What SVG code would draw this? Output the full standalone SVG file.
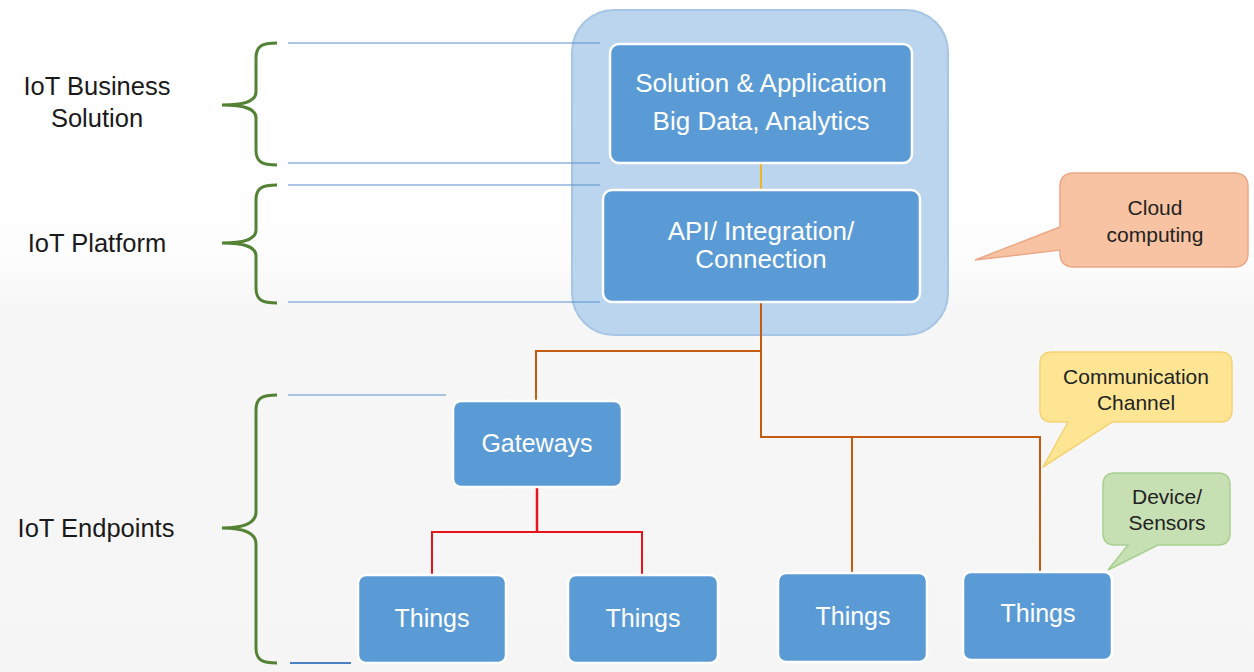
<svg xmlns="http://www.w3.org/2000/svg" width="1254" height="672" viewBox="0 0 1254 672">
<defs>
<linearGradient id="bg" x1="0" y1="0" x2="0" y2="1">
<stop offset="0" stop-color="#ffffff"/>
<stop offset="0.38" stop-color="#fdfdfd"/>
<stop offset="0.45" stop-color="#f7f7f7"/>
<stop offset="1" stop-color="#f5f5f5"/>
</linearGradient>
<style>
.box{fill:#5b9bd5;stroke:#ffffff;stroke-width:2.5}
.wt{font-family:"Liberation Sans",Arial,sans-serif;font-size:26px;fill:#ffffff;text-anchor:middle}
.wt2{font-family:"Liberation Sans",Arial,sans-serif;font-size:25px;fill:#ffffff;text-anchor:middle}
.lbl{font-family:"Liberation Sans",Arial,sans-serif;font-size:25.5px;fill:#1a1a1a;text-anchor:middle}
.ct{font-family:"Liberation Sans",Arial,sans-serif;font-size:21px;fill:#222222;text-anchor:middle}
.br{fill:none;stroke:#548235;stroke-width:3}
.bl{fill:none;stroke:#5b8fcf;stroke-width:1.2}
.or{fill:none;stroke:#c55a11;stroke-width:2}
.rd{fill:none;stroke:#e8141c;stroke-width:2}
</style>
</defs>
<rect width="1254" height="672" fill="url(#bg)"/>

<g id="cloud-container">
<rect x="572" y="10" width="376" height="325" rx="42" fill="#bad5ed" stroke="#a7c5e4" stroke-width="2"/>
</g>

<g id="brackets">
<path class="br" d="M277,43 C262,43 256,46 256,58 L256,92 C256,100 248,105 222,105 C248,105 256,110 256,118 L256,150 C256,162 262,165 277,165"/>
<path class="br" d="M277,185 C262,185 256,188 256,200 L256,230 C256,238 248,243 222,243 C248,243 256,248 256,256 L256,288 C256,300 262,303 277,303"/>
<path class="br" d="M277,395 C262,395 256,398 256,410 L256,512 C256,521 248,528 222,528 C248,528 256,535 256,544 L256,648 C256,660 262,663 277,663"/>
</g>

<g id="guides">
<line class="bl" x1="288" y1="43" x2="600" y2="43"/>
<line class="bl" x1="288" y1="163" x2="600" y2="163"/>
<line class="bl" x1="288" y1="185" x2="600" y2="185"/>
<line class="bl" x1="288" y1="302" x2="600" y2="302"/>
<line class="bl" x1="288" y1="395" x2="446" y2="395"/>
<line x1="290" y1="663" x2="351" y2="663" stroke="#4a7fc4" stroke-width="2"/>
</g>

<g id="layer-labels">
<text class="lbl" x="97" y="95">IoT Business</text>
<text class="lbl" x="97" y="127">Solution</text>
<text class="lbl" x="97" y="252">IoT Platform</text>
<text class="lbl" x="96" y="537">IoT Endpoints</text>
</g>

<g id="connectors">
<line x1="761" y1="164" x2="761" y2="189" stroke="#f0b323" stroke-width="2"/>
<polyline class="or" points="536,400 536,351 761,351"/>
<polyline class="or" points="761,303 761,437 1040,437 1040,572"/>
<line class="or" x1="852" y1="437" x2="852" y2="573"/>
<line x1="537" y1="488" x2="537" y2="532" stroke="#e8141c" stroke-width="2.5"/>
<polyline class="rd" points="432,575 432,532 642,532 642,575"/>
</g>

<g id="solution">
<rect class="box" x="610" y="44" width="302" height="119" rx="9"/>
<text class="wt" x="761" y="92">Solution &amp; Application</text>
<text class="wt" x="761" y="130">Big Data, Analytics</text>
</g>

<g id="api">
<rect class="box" x="603" y="190" width="317" height="112" rx="9"/>
<text class="wt" x="761" y="240">API/ Integration/</text>
<text class="wt" x="761" y="268">Connection</text>
</g>

<g id="gateways">
<rect class="box" x="453" y="401" width="169" height="86" rx="8"/>
<text class="wt2" x="537" y="452">Gateways</text>
</g>

<g id="things1">
<rect class="box" x="358" y="575" width="148" height="88" rx="8"/>
<text class="wt2" x="432" y="627">Things</text>
</g>
<g id="things2">
<rect class="box" x="568" y="575" width="150" height="88" rx="8"/>
<text class="wt2" x="643" y="627">Things</text>
</g>
<g id="things3">
<rect class="box" x="778" y="573" width="149" height="89" rx="8"/>
<text class="wt2" x="853" y="625">Things</text>
</g>
<g id="things4">
<rect class="box" x="963" y="572" width="149" height="88" rx="8"/>
<text class="wt2" x="1038" y="622">Things</text>
</g>

<g id="callout-cloud">
<path d="M1074,173 L1234,173 Q1248,173 1248,187 L1248,253 Q1248,267 1234,267 L1074,267 Q1060,267 1060,253 L1060,250 L975,260 L1060,227 L1060,187 Q1060,173 1074,173 Z" fill="#f8c3a3" stroke="#eaa886" stroke-width="1.5"/>
<text class="ct" x="1155" y="215">Cloud</text>
<text class="ct" x="1155" y="242">computing</text>
</g>

<g id="callout-channel">
<path d="M1052,352 L1220,352 Q1232,352 1232,364 L1232,410 Q1232,422 1220,422 L1112,422 L1043,467 L1068,422 L1052,422 Q1040,422 1040,410 L1040,364 Q1040,352 1052,352 Z" fill="#fde594" stroke="#f3d374" stroke-width="1.5"/>
<text class="ct" x="1136" y="384">Communication</text>
<text class="ct" x="1136" y="410">Channel</text>
</g>

<g id="callout-device">
<path d="M1115,473 L1218,473 Q1230,473 1230,485 L1230,533 Q1230,545 1218,545 L1158,545 L1108,570 L1128,545 L1115,545 Q1103,545 1103,533 L1103,485 Q1103,473 1115,473 Z" fill="#c6e0b4" stroke="#a9cf90" stroke-width="1.5"/>
<text class="ct" x="1167" y="504">Device/</text>
<text class="ct" x="1167" y="530">Sensors</text>
</g>
</svg>
